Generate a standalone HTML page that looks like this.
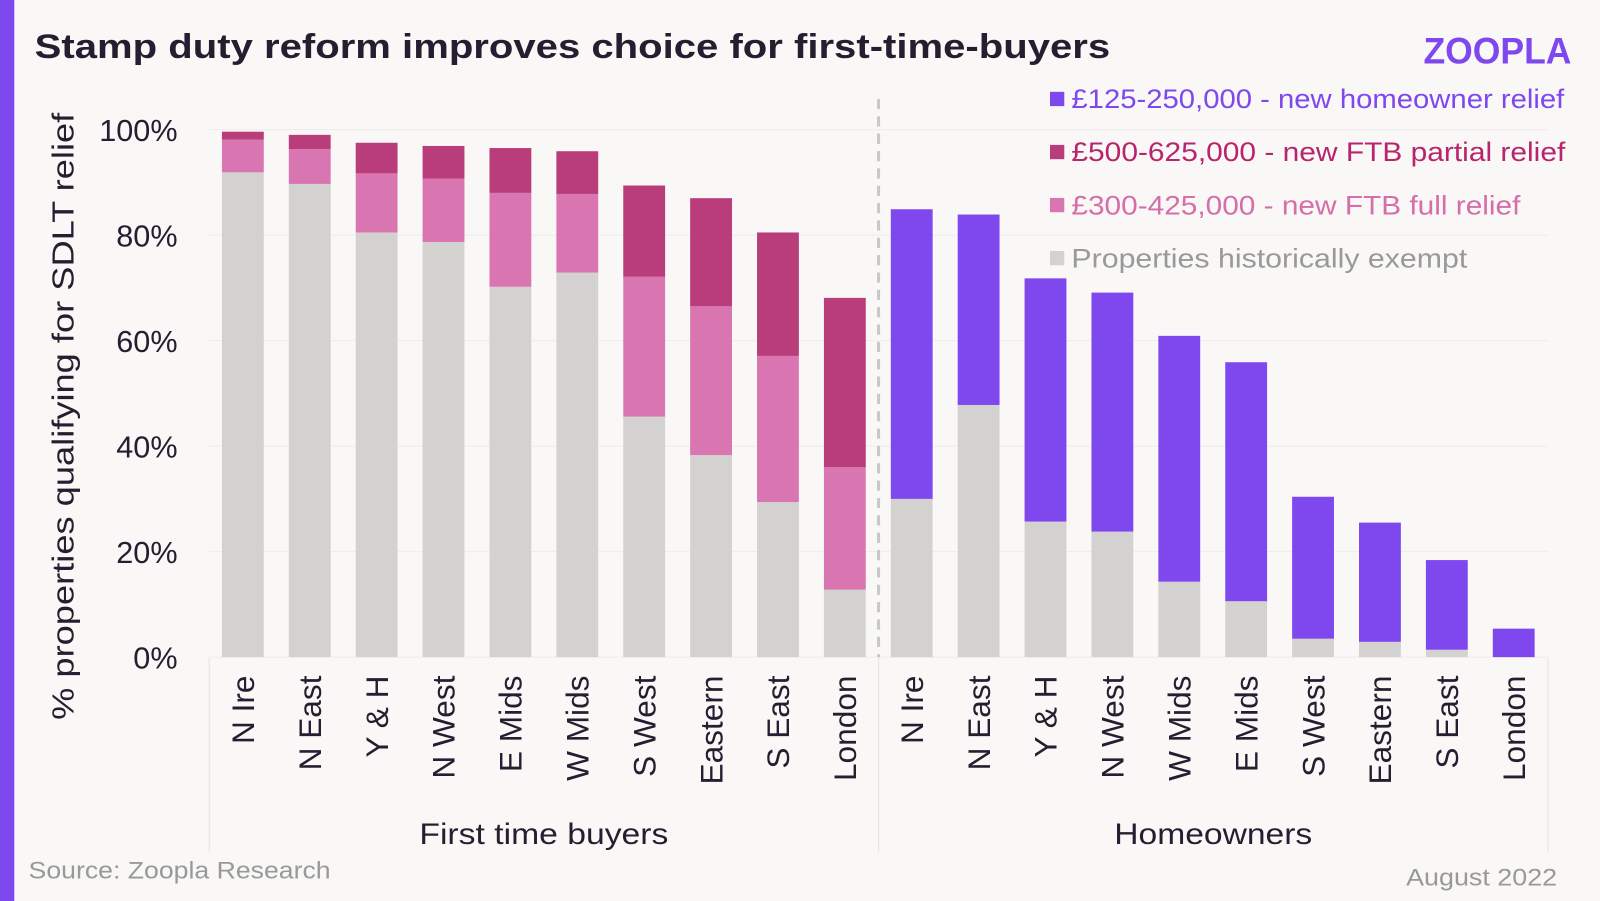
<!DOCTYPE html>
<html><head><meta charset="utf-8"><style>
body{margin:0;width:1600px;height:901px;background:#f9f8f6;font-family:"Liberation Sans",sans-serif;overflow:hidden}
svg{display:block}
</style></head><body>
<svg width="1600" height="901" xmlns="http://www.w3.org/2000/svg" id="chart">
<rect x="0" y="0" width="1600" height="901" fill="#f9f8f6"/>
<g transform="scale(1.0204)">
<rect x="0" y="0" width="14" height="901" fill="#7f47ee"/>
<text x="34" y="57" font-size="34" font-weight="bold" fill="#231f30" textLength="1054" lengthAdjust="spacingAndGlyphs">Stamp duty reform improves choice for first-time-buyers</text>
<text x="1395" y="62" font-size="36" font-weight="bold" fill="#7f47ee" textLength="145" lengthAdjust="spacingAndGlyphs">ZOOPLA</text>
<text transform="translate(72,408) rotate(-90)" text-anchor="middle" font-size="30" fill="#231f30" textLength="595" lengthAdjust="spacingAndGlyphs">% properties qualifying for SDLT relief</text>
<g id="grid"></g><g id="bars"></g><g id="xlabels"></g>
<line x1="861" y1="97" x2="861" y2="644" stroke="#c8c8c8" stroke-width="3" stroke-dasharray="10,7"/>
<line x1="205" y1="644" x2="205" y2="835" stroke="#e4e4e4"/>
<line x1="861" y1="644" x2="861" y2="835" stroke="#e4e4e4"/>
<line x1="1517" y1="644" x2="1517" y2="835" stroke="#e4e4e4"/>
<text x="411" y="827" font-size="29" fill="#231f30" textLength="244" lengthAdjust="spacingAndGlyphs">First time buyers</text>
<text x="1092" y="827" font-size="29" fill="#231f30" textLength="194" lengthAdjust="spacingAndGlyphs">Homeowners</text>
<g>
<rect x="1029" y="90" width="14" height="14" fill="#7f47ee"/>
<text x="1050" y="106" font-size="26" fill="#7f47ee" textLength="483" lengthAdjust="spacingAndGlyphs">£125-250,000 - new homeowner relief</text>
<rect x="1029" y="142" width="14" height="14" fill="#b83d7a"/>
<text x="1050" y="158" font-size="26" fill="#b8246e" textLength="484" lengthAdjust="spacingAndGlyphs">£500-625,000 - new FTB partial relief</text>
<rect x="1029" y="194" width="14" height="14" fill="#d975b0"/>
<text x="1050" y="210" font-size="26" fill="#d56ea9" textLength="440" lengthAdjust="spacingAndGlyphs">£300-425,000 - new FTB full relief</text>
<rect x="1029" y="246" width="14" height="14" fill="#d3d2d0"/>
<text x="1050" y="262" font-size="26" fill="#999" textLength="388" lengthAdjust="spacingAndGlyphs">Properties historically exempt</text>
</g>
<text x="28" y="861" font-size="24" fill="#999" textLength="296" lengthAdjust="spacingAndGlyphs">Source: Zoopla Research</text>
<text x="1378" y="868" font-size="24" fill="#999" textLength="148" lengthAdjust="spacingAndGlyphs">August 2022</text>
</g>
</svg>
<script>
const regions=["N Ire","N East","Y & H","N West","E Mids","W Mids","S West","Eastern","S East","London"];
const ftbExempt=[91.9,89.7,80.5,78.7,70.2,72.9,45.6,38.3,29.4,12.8];
const ftbFull=[6.2,6.6,11.2,12.0,17.8,14.9,26.5,28.2,27.7,23.2];
const ftbPartial=[1.5,2.7,5.8,6.2,8.5,8.1,17.3,20.5,23.4,32.1];
const hoRegions=["N Ire","N East","Y & H","N West","W Mids","E Mids","S West","Eastern","S East","London"];
const hoExempt=[30.0,47.8,25.7,23.8,14.3,10.6,3.5,2.9,1.4,0];
const hoRelief=[54.9,36.1,46.1,45.3,46.6,45.3,26.9,22.6,17.0,5.4];
const yTicks=[0,20,40,60,80,100];

const NS="http://www.w3.org/2000/svg";
const y=v=>644-v*5.17;
const xc=i=>238+i*65.55;
const bw=41;
const root=document.querySelector('#chart > g');
function mk(tag,attrs,parent){const e=document.createElementNS(NS,tag);for(const k in attrs)e.setAttribute(k,attrs[k]);document.getElementById(parent).appendChild(e);return e;}
yTicks.forEach(t=>{
  const l=mk('line',{x1:205,x2:1517,y1:y(t),y2:y(t),stroke:'#ececec'},'grid');
  
  
  const tx=mk('text',{x:174,y:y(t)+11,'text-anchor':'end','font-size':30,fill:'#231f30'},'grid');
  tx.textContent=t+'%';
  
  
});
function seg(i,v0,v1,color,name){
  const r=mk('rect',{x:xc(i)-bw/2,y:y(v1),width:bw,height:Math.max(0,y(v0)-y(v1)),fill:color},'bars');
  
  
}
function label(i,t,name){
  const tx=mk('text',{transform:`translate(${xc(i)+11},662) rotate(-90)`,'text-anchor':'end','font-size':31,fill:'#231f30'},'xlabels');
  tx.textContent=t;
  
  
}
regions.forEach((r,i)=>{
  const a=ftbExempt[i],b=a+ftbFull[i],c=b+ftbPartial[i];
  seg(i,0,a,'#d3d2d0','bar-ftb-exempt');
  seg(i,a,b,'#d975b0','bar-ftb-full');
  seg(i,b,c,'#b83d7a','bar-ftb-partial');
  label(i,r,'x-label-ftb');
});
hoRegions.forEach((r,j)=>{
  const i=j+10,a=hoExempt[j],b=a+hoRelief[j];
  seg(i,0,a,'#d3d2d0','bar-ho-exempt');
  seg(i,a,b,'#7f47ee','bar-ho-relief');
  label(i,r,'x-label-ho');
});
</script>
</body></html>
